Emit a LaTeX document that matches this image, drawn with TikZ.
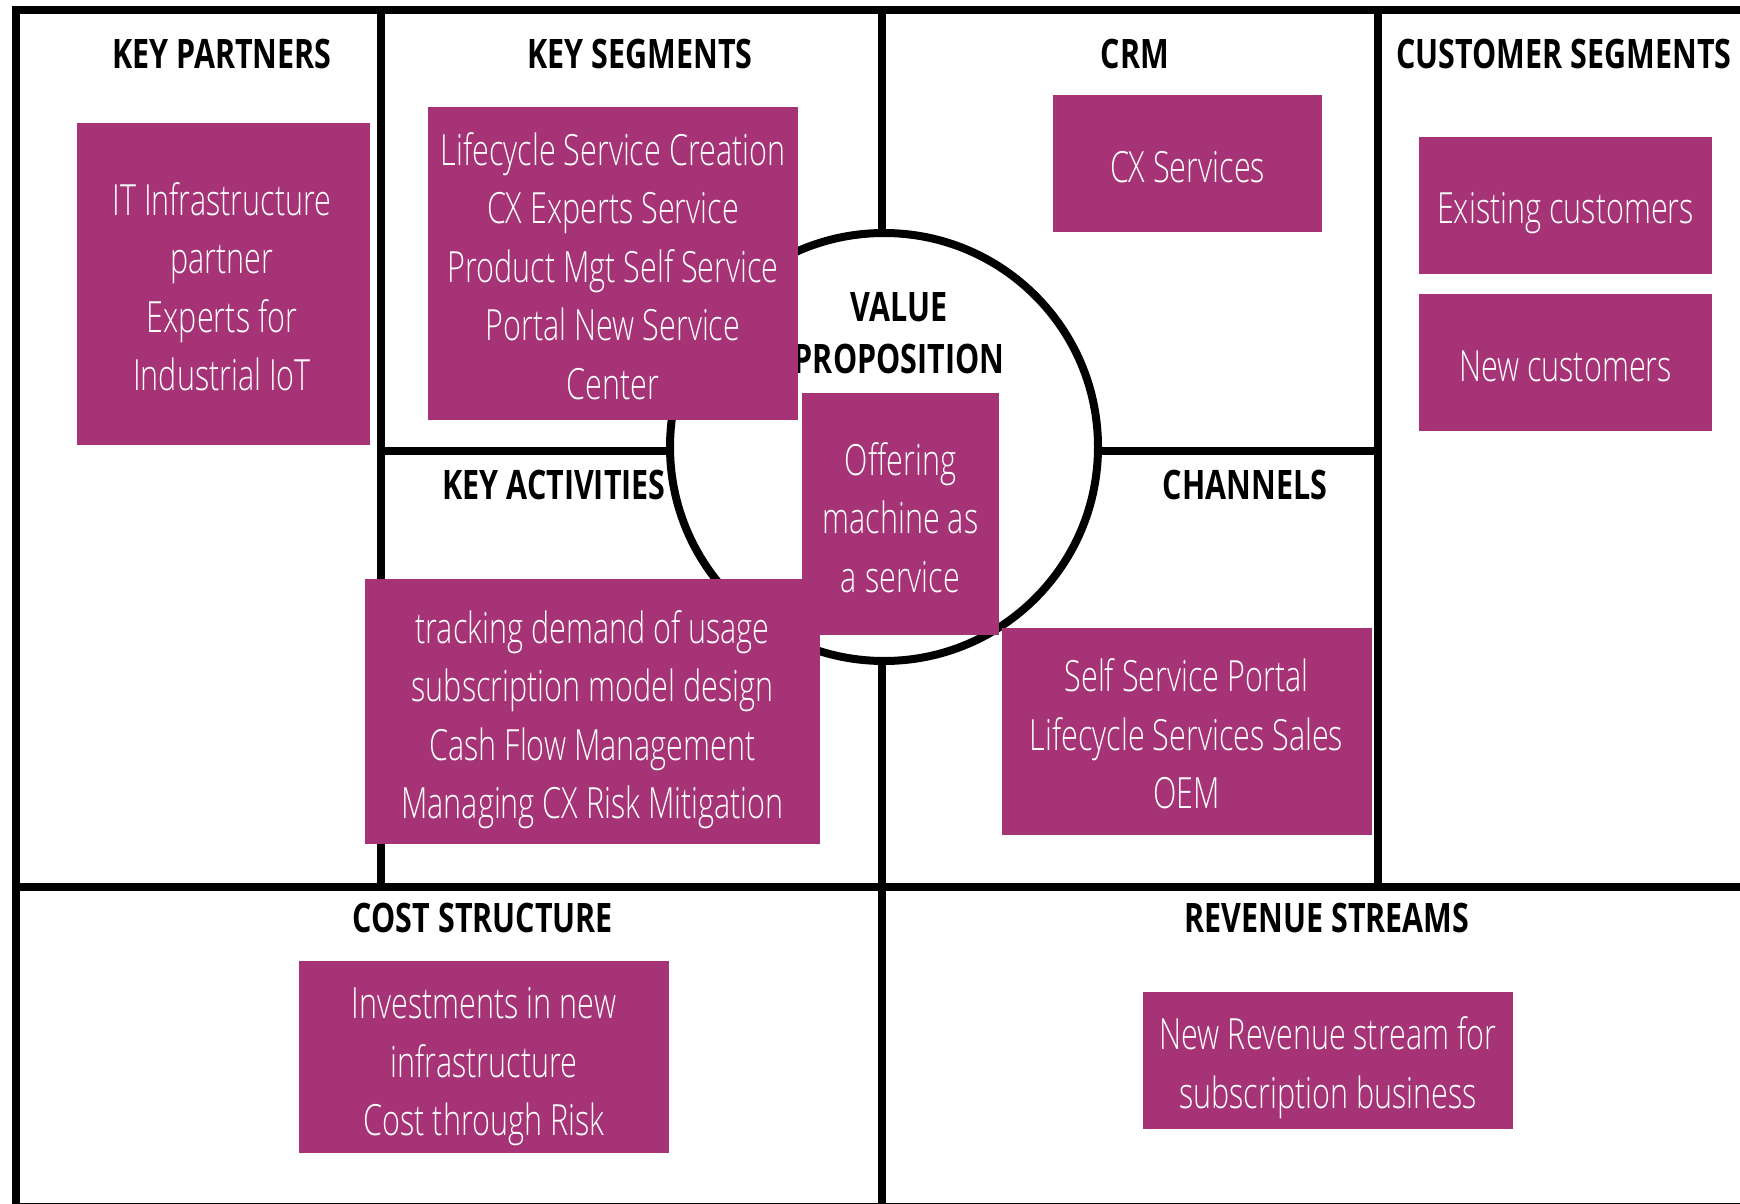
\documentclass[tikz,border=0pt]{standalone}
\usepackage{fontspec}
\setmainfont{Open Sans}
\newfontfamily\hdrfont[FakeStretch=0.75]{Open Sans}
\newfontfamily\bxfont[FakeStretch=0.71]{Open Sans Light}
\definecolor{purp}{RGB}{165,51,118}
\begin{document}
\begin{tikzpicture}[x=0.5pt,y=-0.5pt,line width=4pt,
  hdr/.style={font=\hdrfont\bfseries\fontsize{20.3}{24}\selectfont,anchor=base,inner sep=0pt},
  pbox/.style={fill=purp,draw=none,inner sep=0pt},
  ptext/.style={text=white,font=\bxfont\fontsize{21.5}{29.25}\selectfont,align=center,inner sep=0pt,anchor=base}]
\useasboundingbox (0,0) rectangle (1740,1204);
% grid
\draw (1750,10) -- (15.5,10) -- (15.5,1207) -- (1750,1207);
\draw (381,10) -- (381,887);
\draw (882,10) -- (882,1207);
\draw (1377.5,10) -- (1377.5,887);
\draw (381,451) -- (1377.5,451);
\draw (15.5,887) -- (1750,887);
% value proposition circle
\draw[fill=white] (884,447) circle[radius=214];
% headers
\node[hdr] (hkp) at (222,69) {KEY PARTNERS};
\node[hdr] (hks) at (640,69) {KEY SEGMENTS};
\node[hdr] (hcrm) at (1135,69) {CRM};
\node[hdr] (hcs) at (1564,69) {CUSTOMER SEGMENTS};
\node[hdr] (hvp1) at (899,321.5) {VALUE};
\node[hdr] (hvp2) at (899,373) {PROPOSITION};
\node[hdr] (hka) at (554,499.5) {KEY ACTIVITIES};
\node[hdr] (hch) at (1245,499.5) {CHANNELS};
\node[hdr] (hcost) at (483,932) {COST STRUCTURE};
\node[hdr] (hrev) at (1327,932) {REVENUE STREAMS};
% boxes
\node[pbox,minimum width=146.5pt,minimum height=161pt] (kp) at (223.5,284) {};
\node[pbox,minimum width=185pt,minimum height=156.5pt] (ks) at (613,263.5) {};
\node[pbox,minimum width=134.5pt,minimum height=68.25pt] (crm) at (1187.5,163.25) {};
\node[pbox,minimum width=146.5pt,minimum height=68.5pt] (ex) at (1565.5,205.5) {};
\node[pbox,minimum width=146.5pt,minimum height=68.25pt] (nc) at (1565.5,362.25) {};
\node[pbox,minimum width=227.5pt,minimum height=132.5pt] (ka) at (592.5,711.5) {};
\node[pbox,minimum width=98.5pt,minimum height=121pt] (vp) at (900.5,514) {};
\node[pbox,minimum width=185pt,minimum height=103.25pt] (ch) at (1186.5,731.25) {};
\node[pbox,minimum width=185pt,minimum height=96pt] (cs) at (484,1057) {};
\node[pbox,minimum width=185.25pt,minimum height=68.25pt] (rs) at (1328,1060.25) {};
% box texts (positioned at the baseline of the last line)
\node[ptext] (tkp) at (222,390.5) {IT Infrastructure\\partner\\Experts for\\Industrial IoT};
\node[ptext] (tks) at (613,399) {Lifecycle Service Creation\\CX Experts Service\\Product Mgt Self Service\\Portal New Service\\Center};
\node[ptext] (tcrm) at (1187.5,183) {CX Services};
\node[ptext] (tex) at (1565.5,223.5) {Existing customers};
\node[ptext] (tnc) at (1565.5,381) {New customers};
\node[ptext] (tka) at (592.5,818.5) {tracking demand of usage\\subscription model design\\Cash Flow Management\\Managing CX Risk Mitigation};
\node[ptext] (tvp) at (900.5,592) {Offering\\machine as\\a service};
\node[ptext] (tch) at (1186.5,808.5) {Self Service Portal\\Lifecycle Services Sales\\OEM};
\node[ptext] (tcs) at (484,1135.5) {Investments in new\\infrastructure\\Cost through Risk};
\node[ptext] (trs) at (1328,1108) {New Revenue stream for\\subscription business};
\end{tikzpicture}
\end{document}
